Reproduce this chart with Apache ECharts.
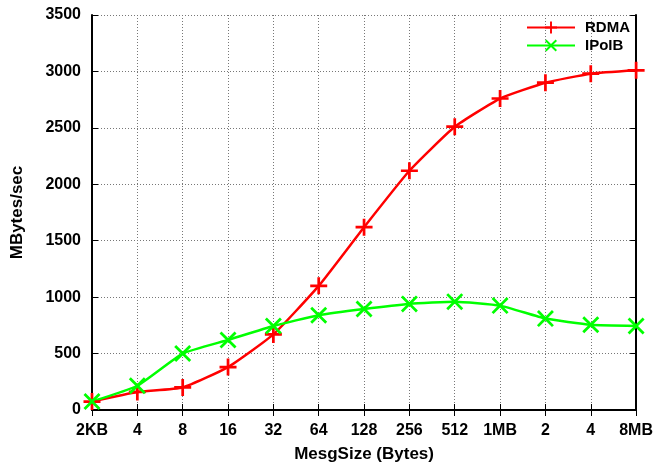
<!DOCTYPE html>
<html><head><meta charset="utf-8">
<script src="https://cdn.jsdelivr.net/npm/echarts@6/dist/echarts.min.js"></script>
<style>html,body{margin:0;padding:0;background:#fff}#c{width:656px;height:468px}</style>
</head><body><div id="c"></div>
<script>
const categories = ['2KB','4','8','16','32','64','128','256','512','1MB','2','4','8MB'];
const rdma  = [75, 160, 200, 380, 670, 1100, 1620, 2120, 2510, 2760, 2900, 2980, 3010];
const ipoib = [75, 215, 500, 620, 745, 840, 895, 940, 960, 925, 810, 755, 745];
const yTicks = {min: 0, max: 3500, interval: 500};

const plusPath = 'path://M-1.6,-10 L1.6,-10 L1.6,-1.6 L10,-1.6 L10,1.6 L1.6,1.6 L1.6,10 L-1.6,10 L-1.6,1.6 L-10,1.6 L-10,-1.6 L-1.6,-1.6 Z';
const crossPath = 'path://M-10,-7.7 L-7.7,-10 L0,-2.3 L7.7,-10 L10,-7.7 L2.3,0 L10,7.7 L7.7,10 L0,2.3 L-7.7,10 L-10,7.7 L-2.3,0 Z';
const font = 'Liberation Sans, Arial, sans-serif';
const grid = {type: [1, 2], color: '#777', width: 1};
const axLine = {show: true, lineStyle: {color: '#000', width: 2}};
const tick = {show: true, inside: true, length: 6, lineStyle: {color: '#000', width: 1}};

const chart = echarts.init(document.getElementById('c'));
chart.setOption({
  animation: false,
  textStyle: {fontFamily: font},
  grid: {left: 92, right: 17, top: 15, bottom: 57, containLabel: false},
  legend: {
    orient: 'vertical', left: 526, top: 20, padding: 0, itemGap: 3,
    itemWidth: 48, itemHeight: 15, align: 'left',
    textStyle: {fontFamily: font, fontWeight: 'bold', fontSize: 15, color: '#000', padding: [0, 0, 0, 5]},
    data: ['RDMA', 'IPoIB']
  },
  xAxis: [{
    type: 'category', data: categories, boundaryGap: false,
    axisLine: axLine, axisTick: tick,
    axisLabel: {fontFamily: font, fontWeight: 'bold', fontSize: 16, color: '#000', margin: 13},
    splitLine: {show: true, lineStyle: grid},
    name: 'MesgSize (Bytes)', nameLocation: 'middle', nameGap: 36,
    nameTextStyle: {fontFamily: font, fontWeight: 'bold', fontSize: 17, color: '#000'}
  }, {
    type: 'category', data: categories, boundaryGap: false, position: 'top',
    axisLine: axLine, axisTick: tick, axisLabel: {show: false}, splitLine: {show: false}
  }],
  yAxis: [{
    type: 'value', min: yTicks.min, max: yTicks.max, interval: yTicks.interval,
    axisLine: axLine, axisTick: tick,
    axisLabel: {fontFamily: font, fontWeight: 'bold', fontSize: 16, color: '#000', margin: 11,
      formatter: v => String(v)},
    splitLine: {show: true, lineStyle: grid},
    name: 'MBytes/sec', nameLocation: 'middle', nameGap: 66,
    nameTextStyle: {fontFamily: font, fontWeight: 'bold', fontSize: 17, color: '#000'}
  }, {
    type: 'value', min: yTicks.min, max: yTicks.max, interval: yTicks.interval, position: 'right',
    axisLine: axLine, axisTick: tick, axisLabel: {show: false}, splitLine: {show: false}
  }],
  series: [{
    name: 'RDMA', type: 'line', data: rdma, smooth: 0.15,
    symbol: plusPath, symbolSize: 17,
    lineStyle: {color: '#ff0000', width: 2.5},
    itemStyle: {color: '#ff0000'}
  }, {
    name: 'IPoIB', type: 'line', data: ipoib, smooth: 0.15,
    symbol: crossPath, symbolSize: 17,
    lineStyle: {color: '#00ff00', width: 2.5},
    itemStyle: {color: '#00ff00'}
  }]
});
</script></body></html>
